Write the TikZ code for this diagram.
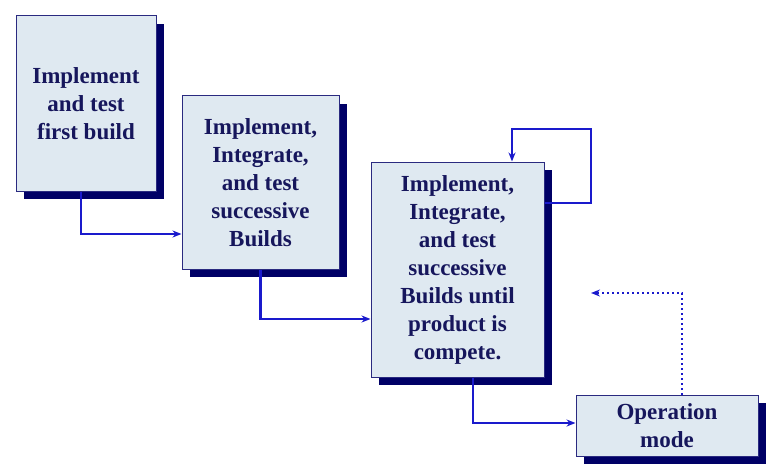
\documentclass[tikz,border=0pt]{standalone}
\usepackage{fontspec}
\setmainfont{Liberation Serif}
\usetikzlibrary{arrows.meta,shadows}
\definecolor{boxfill}{HTML}{DFE9F1}
\definecolor{shade}{HTML}{000066}
\definecolor{txt}{HTML}{16165C}
\definecolor{arr}{HTML}{1A1ACC}
\definecolor{edge}{HTML}{2A2A80}
\begin{document}
\begin{tikzpicture}[x=1pt,y=-1pt,
  stage/.style={draw=edge,line width=1pt,fill=boxfill,text=txt,align=center,
    inner sep=0pt,font=\bfseries\fontsize{23}{28}\selectfont,
    general shadow={fill=shade,shadow xshift=8pt,shadow yshift=-8pt}},
  flow/.style={draw=arr,line width=2.2pt,-{Stealth[length=9pt,width=7pt]}},
  dotflow/.style={draw=arr,line width=2.2pt,dash pattern=on 2pt off 3pt,-{Stealth[length=9pt,width=7pt]}}]
\useasboundingbox (0,0) rectangle (779,476);
\node[stage,minimum width=140pt,minimum height=175pt] (b1) at (86,103.5) {Implement\\and test\\first build};
\node[stage,minimum width=157pt,minimum height=173pt] (b2) at (260.5,182.5) {Implement,\\Integrate,\\and test\\successive\\Builds};
\node[stage,minimum width=173pt,minimum height=215pt] (b3) at (457.5,269.5) {Implement,\\Integrate,\\and test\\successive\\Builds until\\product is\\compete.};
\node[stage,minimum width=182pt,minimum height=61pt] (b4) at (667,425.5) {Operation\\mode};
\coordinate (lp) at (591,129);
\coordinate (dend) at (591,293);
\draw[flow] ([xshift=-5pt]b1.south) |- ([yshift=-51.5pt]b2.west);
\draw[flow] (b2.south) |- ([yshift=-49.5pt]b3.west);
\draw[flow] ([xshift=15.5pt]b3.south) |- ([yshift=2.5pt]b4.west);
\draw[flow] ([yshift=66.5pt]b3.east) -| (lp) -| ([xshift=54.5pt]b3.north);
\draw[dotflow] ([xshift=15pt]b4.north) |- (dend);
\end{tikzpicture}
\end{document}
